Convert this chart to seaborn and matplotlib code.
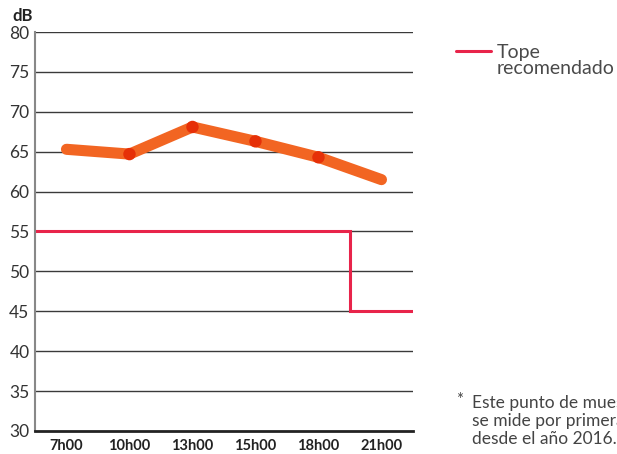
import numpy as np
import matplotlib
matplotlib.use("Agg")
import matplotlib.pyplot as plt
import seaborn as sns

# Noise levels by hour of day
hours = ["7h00", "10h00", "13h00", "15h00", "18h00", "21h00"]
levels = [65.3, 64.7, 68.1, 66.3, 64.3, 61.5]
sampled = [False, True, True, True, True, False]
limit = [55, 55, 55, 55, 55, 45]
y_ticks = [30, 35, 40, 45, 50, 55, 60, 65, 70, 75, 80]

sns.set_theme(style="white")
plt.rcParams["font.family"] = ["Lato", "DejaVu Sans"]

fig = plt.figure(figsize=(6.17, 4.54), dpi=100)
ax = fig.add_axes([0.0567, 0.0507, 0.6126, 0.8788])

pos = np.arange(len(hours))
edges = np.arange(len(hours) + 1) - 0.5

# horizontal grid
for v in y_ticks[1:]:
    ax.axhline(v, color="#3a3a3a", lw=1.0, zorder=1)

# recommended limit as a step line
ax.stairs(limit, edges, baseline=None, color="#E8244A", lw=2.2, zorder=2)

# measured levels
sns.lineplot(x=pos, y=levels, ax=ax, color="#F26522", lw=8,
             solid_capstyle="round", solid_joinstyle="round", zorder=3)
mask = np.array(sampled)
sns.scatterplot(x=pos[mask], y=np.array(levels)[mask], ax=ax, color="#E63008",
                s=80, edgecolor="none", zorder=4)

ax.set_xlim(edges[0], edges[-1])
ax.set_ylim(30, 80)
ax.set_yticks(y_ticks)
ax.set_yticklabels([str(v) for v in y_ticks], fontsize=12.5, color="#333333")
ax.tick_params(axis="y", length=0, pad=4)

ax.set_xticks(edges)
ax.set_xticklabels([])
ax.tick_params(axis="x", which="major", direction="in", length=6, width=1.5,
               color="#222222")
ax.set_xticks(pos, minor=True)
ax.set_xticklabels(hours, minor=True, fontsize=10.5, fontweight="bold",
                   color="#222222")
ax.tick_params(axis="x", which="minor", length=0, pad=6)

for s in ["top", "right"]:
    ax.spines[s].set_visible(False)
ax.spines["left"].set_color("#888888")
ax.spines["left"].set_linewidth(1.5)
ax.spines["bottom"].set_color("#222222")
ax.spines["bottom"].set_linewidth(2)
ax.set_xlabel("")
ax.set_ylabel("")

fig.text(12 / 617, 1 - 16 / 454, "dB", fontsize=12, fontweight="bold",
         color="#222222", va="center", ha="left")

# legend
fig.add_artist(plt.Line2D([456 / 617, 491 / 617], [1 - 51 / 454, 1 - 51 / 454],
                          color="#E8244A", lw=2.2))
fig.text(497 / 617, 1 - 44 / 454, "Tope\nrecomendado", fontsize=14,
         color="#4a4a4a", va="top", ha="left", linespacing=0.95)

# footnote
fig.text(456 / 617, 1 - 400 / 454, "*", fontsize=12, color="#444444",
         va="center", ha="left")
fig.text(472 / 617, 1 - 421 / 454,
         "Este punto de muestreo\nse mide por primera vez\ndesde el año 2016.",
         fontsize=12.5, color="#444444", va="center", ha="left", linespacing=1.15)

fig.savefig("out.png", dpi=100)
